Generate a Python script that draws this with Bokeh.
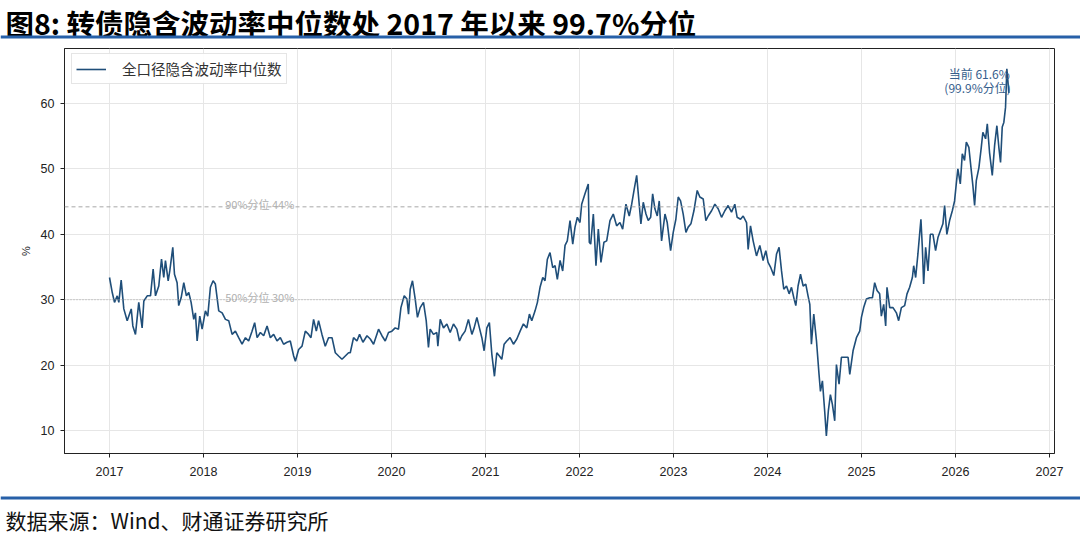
from bokeh.plotting import figure
from bokeh.models import Range1d, FixedTicker, Span, Label, Legend, LegendItem
from bokeh.layouts import column
from bokeh.core.properties import value
from bokeh.embed import file_html
from bokeh.resources import INLINE

# ---------------- data ----------------
title_text = "图8: 转债隐含波动率中位数处 2017 年以来 99.7%分位"
source_text = "数据来源：Wind、财通证券研究所"
series_name = "全口径隐含波动率中位数"
y_label = "%"
x_ticks = [2017, 2018, 2019, 2020, 2021, 2022, 2023, 2024, 2025, 2026, 2027]
y_ticks = [10, 20, 30, 40, 50, 60]
pct90 = 44.2
pct50 = 30.0
pct90_text = "90%分位 44%"
pct50_text = "50%分位 30%"
current_text = "当前 61.6%"
current_pct_text = "(99.9%分位)"

t_years = [
    2017.000, 2017.029, 2017.053, 2017.082, 2017.099, 2017.124, 2017.152, 2017.188, 2017.231, 2017.248,
    2017.276, 2017.311, 2017.347, 2017.365, 2017.401, 2017.436, 2017.464, 2017.489, 2017.524, 2017.553,
    2017.577, 2017.595, 2017.624, 2017.641, 2017.673, 2017.691, 2017.719, 2017.736, 2017.762, 2017.790,
    2017.818, 2017.843, 2017.868, 2017.896, 2017.914, 2017.932, 2017.960, 2017.985, 2018.020, 2018.045,
    2018.073, 2018.102, 2018.126, 2018.162, 2018.198, 2018.233, 2018.268, 2018.304, 2018.339, 2018.374,
    2018.410, 2018.446, 2018.480, 2018.516, 2018.544, 2018.570, 2018.605, 2018.640, 2018.676, 2018.711,
    2018.746, 2018.782, 2018.817, 2018.852, 2018.888, 2018.923, 2018.959, 2018.977, 2019.012, 2019.048,
    2019.083, 2019.118, 2019.143, 2019.171, 2019.200, 2019.224, 2019.260, 2019.295, 2019.330, 2019.367,
    2019.402, 2019.437, 2019.473, 2019.508, 2019.543, 2019.561, 2019.596, 2019.632, 2019.660, 2019.696,
    2019.739, 2019.774, 2019.809, 2019.862, 2019.898, 2019.933, 2019.968, 2020.004, 2020.039, 2020.074,
    2020.100, 2020.135, 2020.164, 2020.181, 2020.199, 2020.223, 2020.252, 2020.276, 2020.305, 2020.340,
    2020.369, 2020.393, 2020.411, 2020.446, 2020.482, 2020.493, 2020.518, 2020.553, 2020.589, 2020.624,
    2020.659, 2020.695, 2020.723, 2020.748, 2020.783, 2020.818, 2020.855, 2020.879, 2020.908, 2020.935,
    2020.961, 2020.985, 2021.014, 2021.041, 2021.067, 2021.095, 2021.120, 2021.148, 2021.173, 2021.198,
    2021.226, 2021.261, 2021.297, 2021.333, 2021.368, 2021.403, 2021.439, 2021.467, 2021.492, 2021.527,
    2021.552, 2021.580, 2021.609, 2021.633, 2021.658, 2021.686, 2021.715, 2021.740, 2021.764, 2021.793,
    2021.821, 2021.846, 2021.870, 2021.899, 2021.928, 2021.952, 2021.977, 2022.005, 2022.023, 2022.058,
    2022.093, 2022.104, 2022.119, 2022.147, 2022.175, 2022.200, 2022.228, 2022.260, 2022.289, 2022.324,
    2022.359, 2022.395, 2022.430, 2022.459, 2022.494, 2022.529, 2022.555, 2022.582, 2022.608, 2022.632,
    2022.653, 2022.678, 2022.707, 2022.731, 2022.757, 2022.778, 2022.802, 2022.827, 2022.848, 2022.873,
    2022.909, 2022.933, 2022.969, 2022.997, 2023.025, 2023.050, 2023.075, 2023.103, 2023.132, 2023.156,
    2023.185, 2023.217, 2023.252, 2023.280, 2023.316, 2023.344, 2023.369, 2023.405, 2023.440, 2023.475,
    2023.511, 2023.546, 2023.581, 2023.617, 2023.652, 2023.677, 2023.713, 2023.741, 2023.777, 2023.794,
    2023.819, 2023.847, 2023.883, 2023.918, 2023.953, 2023.982, 2024.006, 2024.035, 2024.067, 2024.096,
    2024.123, 2024.149, 2024.173, 2024.202, 2024.230, 2024.255, 2024.283, 2024.301, 2024.325, 2024.351,
    2024.379, 2024.407, 2024.431, 2024.450, 2024.467, 2024.492, 2024.521, 2024.548, 2024.563, 2024.584,
    2024.608, 2024.626, 2024.647, 2024.669, 2024.690, 2024.715, 2024.733, 2024.761, 2024.786, 2024.821,
    2024.857, 2024.875, 2024.910, 2024.946, 2024.981, 2024.999, 2025.023, 2025.052, 2025.087, 2025.116,
    2025.140, 2025.165, 2025.193, 2025.211, 2025.236, 2025.257, 2025.271, 2025.300, 2025.335, 2025.371,
    2025.395, 2025.424, 2025.459, 2025.484, 2025.512, 2025.541, 2025.555, 2025.576, 2025.600, 2025.618,
    2025.632, 2025.647, 2025.661, 2025.682, 2025.707, 2025.732, 2025.760, 2025.788, 2025.813, 2025.838,
    2025.866, 2025.884, 2025.908, 2025.937, 2025.966, 2025.990, 2026.008, 2026.025, 2026.051, 2026.072,
    2026.096, 2026.115, 2026.142, 2026.168, 2026.185, 2026.203, 2026.221, 2026.249, 2026.274, 2026.291,
    2026.320, 2026.338, 2026.362, 2026.391, 2026.416, 2026.440, 2026.461, 2026.479, 2026.497, 2026.514,
    2026.532, 2026.546, 2026.557, 2026.567,
]

iv_median = [
    33.4, 31.1, 29.6, 30.6, 29.6, 33.0, 28.6, 26.8, 28.6, 26.0,
    24.7, 29.6, 25.7, 29.8, 30.6, 30.6, 34.7, 30.6, 32.1, 36.2,
    33.4, 36.0, 32.9, 34.4, 38.0, 33.9, 32.6, 29.1, 30.3, 32.6,
    30.6, 31.1, 29.6, 27.0, 28.0, 23.7, 27.5, 25.5, 28.3, 27.5,
    31.9, 32.9, 32.4, 28.3, 28.0, 27.0, 26.8, 24.7, 25.2, 24.2,
    23.2, 24.2, 23.7, 25.2, 26.5, 24.2, 25.0, 24.5, 26.0, 24.2,
    24.7, 23.7, 24.2, 23.2, 23.5, 23.7, 21.4, 20.6, 22.4, 22.9,
    25.2, 24.7, 24.2, 27.0, 25.2, 26.8, 24.7, 22.9, 24.2, 24.2,
    21.9, 21.4, 20.9, 21.4, 21.9, 21.9, 24.2, 23.7, 24.7, 23.5,
    24.5, 24.0, 23.2, 25.5, 24.5, 23.7, 25.0, 25.2, 25.7, 25.5,
    28.8, 30.6, 30.1, 27.8, 31.6, 32.9, 30.1, 27.3, 28.8, 29.6,
    26.8, 22.7, 25.5, 24.7, 25.0, 22.9, 27.0, 25.7, 26.3, 25.0,
    26.3, 25.5, 23.7, 24.5, 25.2, 27.0, 24.7, 25.7, 27.3, 25.7,
    24.2, 22.2, 25.7, 26.5, 21.7, 18.3, 21.9, 21.4, 20.9, 23.2,
    23.7, 24.2, 23.2, 24.0, 25.2, 26.3, 25.7, 27.8, 26.8, 28.3,
    29.6, 31.9, 33.4, 32.9, 36.2, 37.2, 34.9, 35.2, 33.1, 36.0,
    34.4, 38.3, 39.0, 42.1, 38.5, 41.1, 42.6, 41.8, 44.6, 46.2,
    47.7, 38.8, 38.5, 43.1, 35.2, 40.8, 35.7, 38.8, 39.0, 42.1,
    43.1, 41.3, 41.8, 40.8, 44.6, 42.8, 44.6, 46.9, 49.0, 45.1,
    41.6, 44.9, 43.1, 42.1, 42.6, 46.2, 43.9, 42.8, 45.1, 39.0,
    43.1, 41.8, 37.5, 40.3, 42.3, 45.7, 45.1, 43.1, 40.3, 41.1,
    41.6, 43.6, 46.7, 45.7, 45.4, 42.1, 42.8, 43.6, 44.6, 43.9,
    42.6, 43.6, 44.4, 43.4, 44.6, 42.6, 42.3, 42.8, 41.8, 37.7,
    41.3, 39.0, 36.7, 38.3, 36.0, 37.5, 35.7, 34.9, 33.7, 37.0,
    38.0, 34.4, 31.6, 32.1, 30.9, 31.9, 30.1, 29.1, 32.1, 33.9,
    32.1, 32.4, 30.6, 29.3, 23.2, 27.8, 23.7, 18.6, 16.0, 17.6,
    13.0, 9.2, 13.0, 15.5, 14.0, 11.5, 20.1, 17.1, 21.2, 21.2,
    21.2, 18.6, 22.2, 24.2, 25.2, 27.3, 28.8, 30.1, 30.3, 30.3,
    32.6, 31.4, 30.9, 27.5, 29.3, 26.0, 31.9, 28.8, 28.8, 28.0,
    26.8, 28.8, 29.1, 30.9, 31.9, 33.4, 35.2, 33.4, 37.0, 40.0,
    42.3, 38.0, 32.4, 38.0, 34.4, 40.0, 40.0, 37.5, 39.5, 40.5,
    41.6, 44.4, 40.0, 42.1, 43.6, 45.1, 47.7, 50.0, 47.7, 52.3,
    51.3, 54.1, 53.3, 49.7, 47.4, 44.4, 48.2, 50.2, 53.3, 55.6,
    54.6, 56.9, 52.5, 49.0, 53.6, 56.6, 53.3, 51.0, 56.4, 57.1,
    59.4, 65.3, 63.5, 61.6,
]

# ---------------- styles ----------------
LINE_COLOR = "#1f4e79"
RULE_COLOR = "#2760a8"
CJK = "Noto Sans CJK SC"
W = 1080
HH, FTH = 44, 45                    # header, footer heights
BL, BR, BT, BB = 64, 26, 4, 37      # main plot borders
FRAME_H = 405
MH = BT + FRAME_H + BB

# ---------------- header ----------------
h = figure(width=W, height=HH, x_range=Range1d(0, W), y_range=Range1d(0, HH),
           x_axis_type=None, y_axis_type=None, output_backend="svg",
           toolbar_location=None, min_border=0, outline_line_color=None,
           frame_align=False)
h.text(x=[5], y=[HH - 21.5], text=[title_text], text_font=value(CJK), text_font_style="bold",
       text_font_size="28.5px", text_baseline="middle", text_align="left", text_color="#000000")
h.add_layout(Span(location=HH - 36.5, dimension="width", line_color=RULE_COLOR, line_width=3))

# ---------------- main chart ----------------
p = figure(width=W, height=MH,
           x_range=Range1d(2016.521, 2027.053), y_range=Range1d(6.5, 68.4),
           output_backend="svg", toolbar_location=None, frame_align=False,
           min_border_left=BL, min_border_right=BR, min_border_top=BT, min_border_bottom=BB)

p.xgrid.grid_line_color = "#e6e6e6"
p.ygrid.grid_line_color = "#e6e6e6"
p.xgrid.ticker = FixedTicker(ticks=x_ticks)
p.ygrid.ticker = FixedTicker(ticks=y_ticks)
p.outline_line_color = "#222222"
p.outline_line_width = 1

p.xaxis.ticker = FixedTicker(ticks=x_ticks)
p.yaxis.ticker = FixedTicker(ticks=y_ticks)
for ax in (p.xaxis, p.yaxis):
    ax.major_tick_out = 4
    ax.major_tick_in = 0
    ax.minor_tick_out = 0
    ax.minor_tick_in = 0
    ax.axis_line_color = "#222222"
    ax.major_tick_line_color = "#222222"
    ax.major_label_text_font = "Liberation Sans"
    ax.major_label_text_font_size = "12.5px"
    ax.major_label_text_color = "#222222"
p.xaxis.major_label_standoff = 9
p.yaxis.major_label_standoff = 6
p.yaxis.axis_label = y_label
p.yaxis.axis_label_text_font = "Liberation Sans"
p.yaxis.axis_label_text_font_size = "11px"
p.yaxis.axis_label_text_font_style = "normal"
p.yaxis.axis_label_text_color = "#222222"
p.yaxis.axis_label_standoff = 6

p.add_layout(Span(location=pct90, dimension="width", line_color="#a8a8a8",
                  line_dash="4 3", line_width=1))
p.add_layout(Span(location=pct50, dimension="width", line_color="#a8a8a8",
                  line_dash="1 2", line_width=1))

r = p.line(t_years, iv_median, line_color=LINE_COLOR, line_width=1.6)

pct_label_x = 2018.23
p.add_layout(Label(x=pct_label_x, y=pct90, text=pct90_text, text_font=CJK,
                   text_font_size="11px", text_color="#b0b0b0",
                   text_baseline="middle", y_offset=3))
p.add_layout(Label(x=pct_label_x, y=pct50, text=pct50_text, text_font=CJK,
                   text_font_size="11px", text_color="#b0b0b0",
                   text_baseline="middle", y_offset=3))

p.add_layout(Label(x=t_years[-1], y=iv_median[-1], text=current_text, text_font=CJK,
                   text_font_size="12px", text_color="#365e8c", text_align="right",
                   text_baseline="middle", x_offset=1, y_offset=19))
p.add_layout(Label(x=t_years[-1], y=iv_median[-1], text=current_pct_text, text_font=CJK,
                   text_font_size="12px", text_color="#365e8c", text_align="right",
                   text_baseline="middle", x_offset=2, y_offset=5))

legend = Legend(items=[LegendItem(label=series_name, renderers=[r])],
                location=(7, FRAME_H - 36), margin=0, padding=4, spacing=0,
                glyph_width=30, glyph_height=12, label_standoff=16, label_height=12,
                label_text_font=CJK, label_text_font_size="14.5px",
                label_text_color="#333333", border_line_color="#cccccc",
                border_line_width=1, background_fill_alpha=0.9)
p.add_layout(legend)

# ---------------- footer ----------------
f = figure(width=W, height=FTH, x_range=Range1d(0, W), y_range=Range1d(0, FTH),
           x_axis_type=None, y_axis_type=None, output_backend="svg",
           toolbar_location=None, min_border=0, outline_line_color=None,
           frame_align=False)
f.add_layout(Span(location=FTH - 7.5, dimension="width", line_color=RULE_COLOR, line_width=3))
f.text(x=[5], y=[FTH - 29.5], text=[source_text], text_font=value(CJK), text_font_size="21px",
       text_baseline="middle", text_align="left", text_color="#111111")

layout = column(h, p, f)
open("out.html", "w").write(file_html(layout, INLINE))
